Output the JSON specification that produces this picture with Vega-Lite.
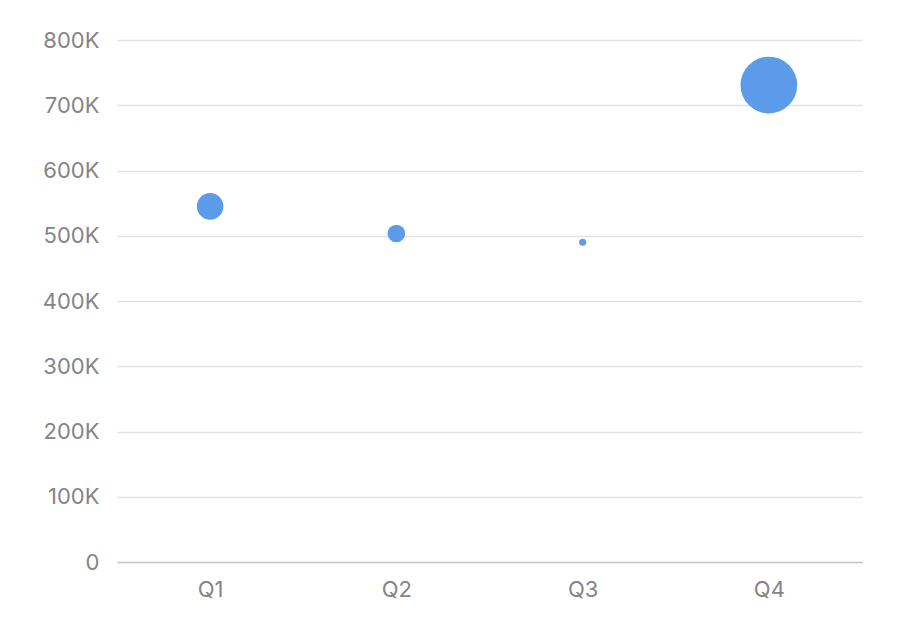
{
  "$schema": "https://vega.github.io/schema/vega-lite/v6.json",
  "autosize": "none",
  "width": 745,
  "height": 522,
  "padding": {"left": 117, "top": 40, "right": 38, "bottom": 80},
  "background": "white",
  "config": {"view": {"stroke": null}},
  "data": {
    "values": [
      {"quarter": "Q1", "value": 545000, "weight": 70},
      {"quarter": "Q2", "value": 503500, "weight": 31},
      {"quarter": "Q3", "value": 490000, "weight": 5},
      {"quarter": "Q4", "value": 731000, "weight": 320}
    ]
  },
  "mark": {"type": "circle", "color": "#5b9be9", "opacity": 1},
  "encoding": {
    "x": {
      "field": "quarter", "type": "nominal",
      "scale": {"paddingInner": 0, "paddingOuter": 0},
      "axis": {"title": null, "labelAngle": 0, "ticks": false, "labelPadding": 17,
        "domainColor": "#c8c8c8", "domainWidth": 1.5, "labelColor": "#858585",
        "labelFont": "Inter", "labelFontSize": 22, "labelFontWeight": 400, "grid": false}
    },
    "y": {
      "field": "value", "type": "quantitative",
      "scale": {"domain": [0, 800000], "nice": false},
      "axis": {"title": null, "values": [0,100000,200000,300000,400000,500000,600000,700000,800000],
        "labelExpr": "datum.value == 0 ? '0' : (datum.value/1000) + 'K'",
        "ticks": false, "domain": false, "labelPadding": 18, "gridColor": "#e3e3e3", "gridWidth": 1.5,
        "labelColor": "#858585", "labelFont": "Inter", "labelFontSize": 22, "labelFontWeight": 400}
    },
    "size": {
      "field": "weight", "type": "quantitative",
      "scale": {"domain": [0, 320], "range": [0, 3217]},
      "legend": null
    }
  }
}
